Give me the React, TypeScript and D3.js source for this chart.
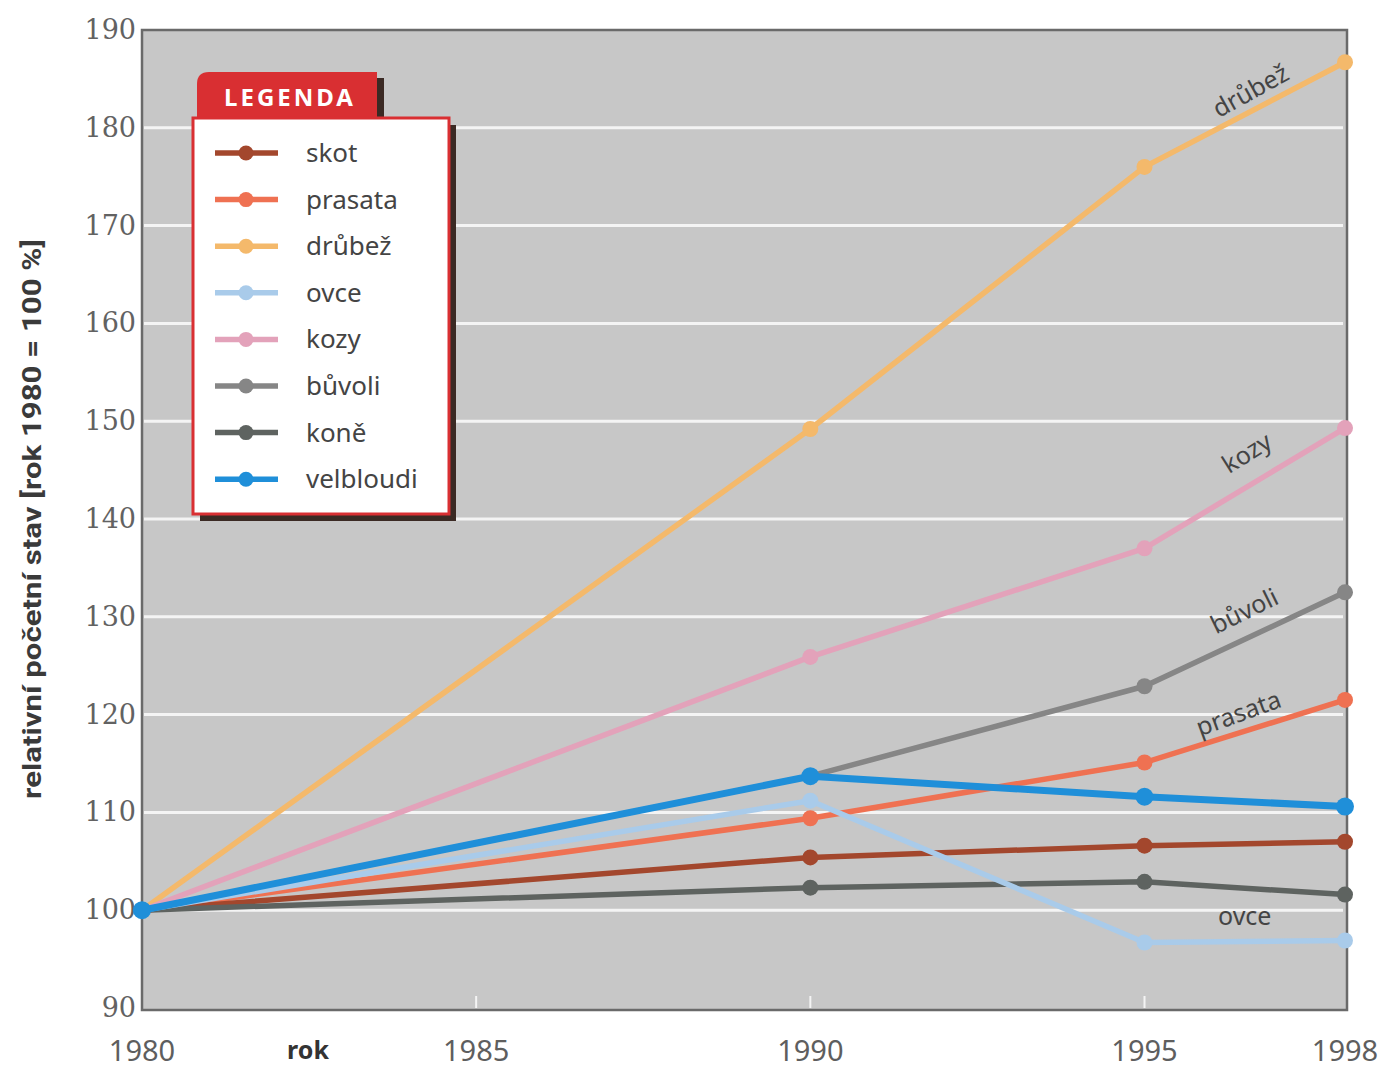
import * as d3 from 'd3';

// Years on the x axis and relative counts (1980 = 100 %)
const years = [1980, 1990, 1995, 1998];
const xTicks = [1980, 1985, 1990, 1995, 1998];
const yTicks = [90, 100, 110, 120, 130, 140, 150, 160, 170, 180, 190];

const skot = [100, 105.4, 106.6, 107];
const prasata = [100, 109.4, 115.1, 121.5];
const drubez = [100, 149.2, 176, 186.7];
const ovce = [100, 111.2, 96.7, 96.9];
const kozy = [100, 125.9, 137, 149.3];
const buvoli = [100, 113.7, 122.9, 132.5];
const kone = [100, 102.3, 102.9, 101.6];
const velbloudi = [100, 113.7, 111.6, 110.6];

const series = [
  { name: 'skot', values: skot, color: '#a3472d', width: 5.5 },
  { name: 'prasata', values: prasata, color: '#ef7152', width: 5.5 },
  { name: 'drůbež', values: drubez, color: '#f4b96b', width: 5.5 },
  { name: 'ovce', values: ovce, color: '#a9cbea', width: 5.5 },
  { name: 'kozy', values: kozy, color: '#e3a2ba', width: 5.5 },
  { name: 'bůvoli', values: buvoli, color: '#868686', width: 5.5 },
  { name: 'koně', values: kone, color: '#5e6360', width: 5.5 },
  { name: 'velbloudi', values: velbloudi, color: '#1f8fd9', width: 7 },
];

// draw order: later on top
const drawOrder = ['drůbež', 'kozy', 'bůvoli', 'prasata', 'skot', 'koně', 'ovce', 'velbloudi'];

// end-of-line labels
const lineLabels = [
  { name: 'drůbež', year: 1996.65, value: 183, angle: -29 },
  { name: 'kozy', year: 1996.6, value: 146, angle: -32 },
  { name: 'bůvoli', year: 1996.55, value: 129.8, angle: -26 },
  { name: 'prasata', year: 1996.45, value: 119.3, angle: -20 },
  { name: 'ovce', year: 1996.5, value: 98.5, angle: 0 },
];

const W = 1385;
const H = 1069;

export default function App() {
  const x = d3.scaleLinear().domain([1980, 1998]).range([142, 1345]);
  const y = d3.scaleLinear().domain([90, 190]).range([1008, 30]);
  const line = d3
    .line<number>()
    .x((_, i) => x(years[i]))
    .y((d) => y(d));

  const ordered = drawOrder.map((n) => series.find((s) => s.name === n)!);

  const legendX = 193;
  const legendY = 118;
  const legendW = 256;
  const legendH = 396;

  return (
    <svg
      width={W}
      height={H}
      viewBox={`0 0 ${W} ${H}`}
      style={{ position: 'absolute', left: 0, top: 0, background: '#fff' }}
    >
      {/* plot background */}
      <rect x={x(1980)} y={y(190)} width={x(1998) - x(1980) + 2} height={y(90) - y(190) + 2} fill='#c7c7c7' stroke='#6a6a6a' strokeWidth={2.5} />

      {/* grid */}
      {yTicks
        .filter((t) => t > 90 && t < 190)
        .map((t) => (
          <line key={t} x1={x(1980) + 2} x2={x(1998) - 2} y1={y(t)} y2={y(t)} stroke='#f4f4f4' strokeWidth={3} />
        ))}
      {xTicks
        .filter((t) => t > 1980 && t < 1998)
        .map((t) => (
          <line key={t} x1={x(t)} x2={x(t)} y1={y(90) - 12} y2={y(90)} stroke='#f4f4f4' strokeWidth={2} />
        ))}

      {/* y tick labels */}
      {yTicks.map((t) => (
        <text key={t} x={136} y={y(t) + 9} textAnchor='end' fontFamily='DejaVu Serif' fontSize={27} fill='#626262'>
          {t}
        </text>
      ))}

      {/* x tick labels */}
      {xTicks.map((t) => (
        <text key={t} x={x(t)} y={1061} textAnchor='middle' fontFamily='Noto Sans' fontSize={29} fill='#5e5e5e'>
          {t}
        </text>
      ))}
      <text x={308} y={1059} textAnchor='middle' fontFamily='Noto Sans' fontWeight='bold' fontSize={25} fill='#333'>
        rok
      </text>

      {/* y axis title */}
      <text
        transform={`translate(41,${519}) rotate(-90)`}
        textAnchor='middle'
        fontFamily='Roboto'
        fontWeight='bold'
        fontSize={25}
        textLength={560}
        lengthAdjust='spacingAndGlyphs'
        fill='#3a3a3a'
      >
        relativní početní stav [rok 1980 = 100 %]
      </text>

      {/* series */}
      {ordered.map((s) => (
        <g key={s.name}>
          <path d={line(s.values) ?? ''} fill='none' stroke={s.color} strokeWidth={s.width} strokeLinejoin='round' />
          {s.values.map((v, i) => (
            <circle key={i} cx={x(years[i])} cy={y(v)} r={s.name === 'velbloudi' ? 9 : 8} fill={s.color} />
          ))}
        </g>
      ))}

      {/* line labels */}
      {lineLabels.map((l) => (
        <text
          key={l.name}
          transform={`translate(${x(l.year)},${y(l.value)}) rotate(${l.angle})`}
          textAnchor='middle'
          fontFamily='Noto Sans'
          fontSize={25}
          fill='#444'
        >
          {l.name}
        </text>
      ))}

      {/* legend */}
      <rect x={legendX + 7} y={legendY + 7} width={legendW} height={legendH} fill='#3b2a24' />
      <path
        d={`M${legendX + 4},${legendY} L${legendX + 4},${legendY - 34} Q${legendX + 4},${legendY - 46} ${legendX + 16},${legendY - 46} L${legendX + 184},${legendY - 46} L${legendX + 184},${legendY} Z`}
        fill='#d92f32'
      />
      <rect x={legendX + 184} y={legendY - 40} width={7} height={40} fill='#3b2a24' />
      <text x={legendX + 97} y={legendY - 12} textAnchor='middle' fontFamily='Noto Sans' fontWeight='bold' fontSize={24} letterSpacing={3} fill='#fff'>
        LEGENDA
      </text>
      <rect x={legendX} y={legendY} width={legendW} height={legendH} fill='#fff' stroke='#d92f32' strokeWidth={3} />
      {series.map((s, i) => {
        const cy = legendY + 35 + i * 46.6;
        return (
          <g key={s.name}>
            <line x1={legendX + 22} x2={legendX + 85} y1={cy} y2={cy} stroke={s.color} strokeWidth={5.5} />
            <circle cx={legendX + 53} cy={cy} r={7.5} fill={s.color} />
            <text x={legendX + 113} y={cy + 9} fontFamily='Noto Sans' fontSize={26} fill='#444'>
              {s.name}
            </text>
          </g>
        );
      })}
    </svg>
  );
}
